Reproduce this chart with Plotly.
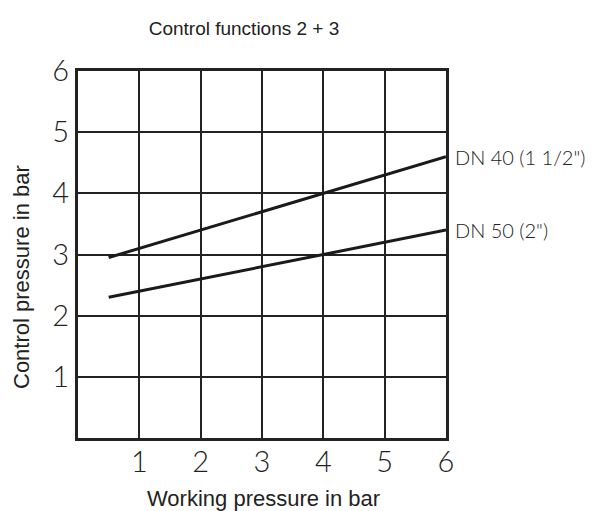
import plotly.graph_objects as go

x_ticks = [1, 2, 3, 4, 5, 6]
y_ticks = [1, 2, 3, 4, 5, 6]

working = [0.5, 6.0]
dn40 = [2.95, 4.6]
dn50 = [2.3, 3.4]
series_names = ["DN 40 (1 1/2\")", "DN 50 (2\")"]

tick_font = dict(family="Lato, Roboto, DejaVu Sans", size=29, color="#222", weight=300)
label_font = dict(family="Lato, Roboto, DejaVu Sans", size=20, color="#222", weight=300)
title_font = dict(family="Liberation Sans, Arial", size=19, color="#222")
axis_title_font = dict(family="Liberation Sans, Arial", size=22, color="#222")

fig = go.Figure()
for name, ys in zip(series_names, [dn40, dn50]):
    fig.add_trace(go.Scatter(x=working, y=ys, mode="lines",
                             line=dict(color="#1a1a1a", width=3), name=name,
                             showlegend=False, hoverinfo="skip"))
    fig.add_annotation(x=working[-1], y=ys[-1], text=name, showarrow=False,
                       xanchor="left", yanchor="middle", xshift=7, font=label_font)

# axis titles as annotations for precise placement
fig.add_annotation(text="Working pressure in bar", xref="paper", yref="paper",
                   x=(263 - 78) / 368, y=-(499 - 438) / 367, xanchor="center", yanchor="middle",
                   showarrow=False, font=axis_title_font)
fig.add_annotation(text="Control pressure in bar", xref="paper", yref="paper",
                   x=-(78 - 21) / 368, y=(438 - 277) / 367, xanchor="center", yanchor="middle",
                   textangle=-90, showarrow=False, font=axis_title_font)

axis_common = dict(showline=True, linewidth=3, linecolor="#222", mirror=True,
                   showgrid=True, gridcolor="#222", gridwidth=1.5, zeroline=False,
                   ticks="", tickfont=tick_font, automargin=False)

fig.update_layout(
    width=597, height=511,
    margin=dict(l=78, r=151, t=71, b=73),
    plot_bgcolor="white", paper_bgcolor="white",
    title=dict(text="Control functions 2 + 3", x=244 / 597, xanchor="center",
               y=1 - 28 / 511, yanchor="middle", font=title_font),
    xaxis=dict(range=[0, 6], tickvals=x_ticks, ticktext=[str(v) for v in x_ticks],
               ticklabelstandoff=-4, **axis_common),
    yaxis=dict(range=[0, 6], tickvals=y_ticks, ticktext=[str(v) for v in y_ticks],
               **axis_common),
)

fig.write_html("out.html", config={"displayModeBar": False},
               post_script="document.body.style.margin='0';")
